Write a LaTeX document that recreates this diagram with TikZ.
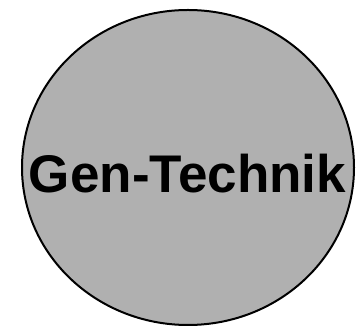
\documentclass[tikz,border=0pt]{standalone}
\usepackage{fontspec}
\setmainfont{Liberation Sans}
\definecolor{fundo}{HTML}{b0b0b0}

\begin{document}
\begin{tikzpicture}[
  x=1pt, y=1pt,
  bola/.style={draw=black, line width=2pt, fill=fundo},
  rotulo/.style={font=\fontsize{53}{58}\selectfont\bfseries, inner sep=0pt, anchor=base}]
\useasboundingbox (0,0) rectangle (356,326);
% ---- circulo
\draw[bola] (188,158.5) ellipse [x radius=166, y radius=157.5];
% ---- texto
\node[rotulo] (gen) at (187.5,133) {Gen-Technik};
\end{tikzpicture}
\end{document}
